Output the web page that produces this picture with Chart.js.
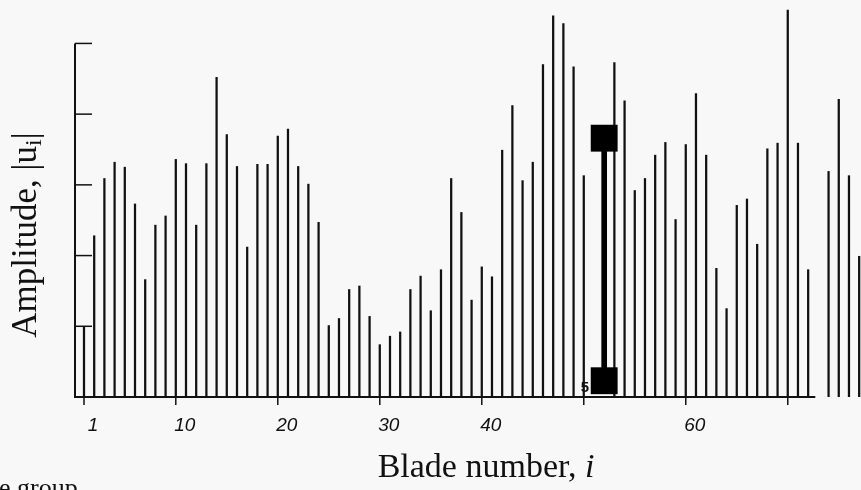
<!DOCTYPE html>
<html>
<head>
<meta charset="utf-8">
<script src="https://cdn.jsdelivr.net/npm/chart.js@4/dist/chart.umd.min.js"></script>
<style>
  html, body { margin: 0; padding: 0; background: #f8f8f8; }
  #wrap { width: 861px; height: 490px; }
</style>
</head>
<body>
<div id="wrap"><canvas id="bladeChart" width="861" height="490"></canvas></div>
<script>
// amplitude |u_i| per blade, blade number = position in list (1..77)
const amplitude = [
  0.99, 2.28, 3.09, 3.32, 3.25, 2.73, 1.66, 2.43, 2.56, 3.36,
  3.30, 2.43, 3.30, 4.52, 3.71, 3.26, 2.12, 3.29, 3.29, 3.69,
  3.79, 3.26, 3.01, 2.47, 1.01, 1.11, 1.52, 1.57, 1.14, 0.74,
  0.86, 0.92, 1.52, 1.71, 1.22, 1.80, 3.09, 2.61, 1.37, 1.84,
  1.70, 3.49, 4.12, 3.06, 3.32, 4.70, 5.39, 5.28, 4.67, 3.13,
  null, null, 4.73, 4.19, 2.92, 3.09, 3.42, 3.60, 2.51, 3.57,
  4.29, 3.42, 1.82, 1.25, 2.71, 2.80, 2.16, 3.51, 3.59, 5.47,
  3.59, 1.80, null, 3.19, 4.21, 3.13, 1.99
];

// error bar drawn at one blade
const errBlade = 52;
const errLow = 0.23;
const errHigh = 3.66;

const xTicks = [1, 10, 20, 30, 40, 50, 60, 70];
const xTickLabels = ['1', '10', '20', '30', '40', '', '60', ''];
const yTicks = [1, 2, 3, 4, 5];

const ink = '#111';
const serif = '"Liberation Serif", "Times New Roman", serif';

const axesPlugin = {
  id: 'axesPlugin',
  beforeDatasetsDraw(chart) {
    const ctx = chart.ctx;
    const x = chart.scales.x, y = chart.scales.y;
    const x0 = x.left, y0 = y.getPixelForValue(0);
    ctx.save();
    ctx.strokeStyle = ink;
    ctx.lineWidth = 2;
    ctx.beginPath();
    ctx.moveTo(x0, y.getPixelForValue(5));
    ctx.lineTo(x0, y0);
    ctx.lineTo(x.getPixelForValue(72.7), y0);
    ctx.stroke();

    ctx.lineWidth = 1.5;
    yTicks.forEach(v => {
      const py = y.getPixelForValue(v);
      ctx.beginPath();
      ctx.moveTo(x0, py);
      ctx.lineTo(x0 + 17, py);
      ctx.stroke();
    });
    xTicks.forEach(v => {
      const px = x.getPixelForValue(v);
      ctx.beginPath();
      ctx.moveTo(px, y0);
      ctx.lineTo(px, y0 + 8);
      ctx.stroke();
    });
    ctx.restore();
  },
  afterDraw(chart) {
    const ctx = chart.ctx;
    const x = chart.scales.x;
    ctx.save();
    ctx.fillStyle = ink;

    // tick labels, set a bit right of each tick
    ctx.font = 'italic 19px "Liberation Sans", Arial, sans-serif';
    ctx.textAlign = 'center';
    ctx.textBaseline = 'middle';
    xTicks.forEach((v, k) => {
      if (xTickLabels[k]) ctx.fillText(xTickLabels[k], x.getPixelForValue(v) + 9, 426);
    });

    // stray "5" on the baseline
    ctx.font = 'bold 15px "Liberation Sans", Arial, sans-serif';
    ctx.textAlign = 'right';
    ctx.fillText('5', 589, 388);

    // x title
    ctx.textAlign = 'left';
    ctx.textBaseline = 'alphabetic';
    ctx.font = '34px ' + serif;
    const part = 'Blade number, ';
    const w1 = ctx.measureText(part).width;
    ctx.font = 'italic 34px ' + serif;
    const w2 = ctx.measureText('i').width;
    const tx = 486 - (w1 + w2) / 2;
    ctx.font = '34px ' + serif;
    ctx.fillText(part, tx, 477);
    ctx.font = 'italic 34px ' + serif;
    ctx.fillText('i', tx + w1, 477);

    // y title, rotated
    ctx.save();
    ctx.translate(36, 235);
    ctx.rotate(-Math.PI / 2);
    ctx.font = '35px ' + serif;
    const a = 'Amplitude, |u';
    const wa = ctx.measureText(a).width;
    const wb = ctx.measureText('|').width;
    ctx.font = '24px ' + serif;
    const wi = ctx.measureText('i').width;
    const sx = -(wa + wi + wb) / 2;
    ctx.font = '35px ' + serif;
    ctx.fillText(a, sx, 0);
    ctx.font = '24px ' + serif;
    ctx.fillText('i', sx + wa, 5);
    ctx.font = '35px ' + serif;
    ctx.fillText('|', sx + wa + wi, 0);
    ctx.restore();

    // cut-off caption fragment
    ctx.font = '26px ' + serif;
    ctx.fillText('e group', -1, 496);
    ctx.restore();
  }
};

new Chart(document.getElementById('bladeChart'), {
  type: 'bar',
  data: {
    datasets: [
      {
        label: 'Amplitude',
        data: amplitude.map((v, k) => ({ x: k + 1, y: v })),
        backgroundColor: ink,
        barThickness: 1.6,
        grouped: false,
        order: 2
      },
      {
        label: 'Error bar',
        data: [{ x: errBlade, y: [errLow, errHigh] }],
        backgroundColor: '#000',
        barThickness: 5,
        grouped: false,
        order: 1
      },
      {
        type: 'scatter',
        label: 'Error ends',
        data: [{ x: errBlade, y: errHigh }, { x: errBlade, y: errLow }],
        pointStyle: 'rect',
        pointRadius: 19,
        backgroundColor: '#000',
        borderWidth: 0,
        clip: false,
        order: 0
      }
    ]
  },
  options: {
    responsive: false,
    animation: false,
    devicePixelRatio: 1,
    layout: { autoPadding: false, padding: { left: 75, right: 0, top: 1, bottom: 93 } },
    plugins: { legend: { display: false }, tooltip: { enabled: false } },
    scales: {
      x: { type: 'linear', min: 0.118, max: 77.18, offset: false, display: false },
      y: { min: 0, max: 5.6, display: false }
    }
  },
  plugins: [axesPlugin]
});
</script>
</body>
</html>
